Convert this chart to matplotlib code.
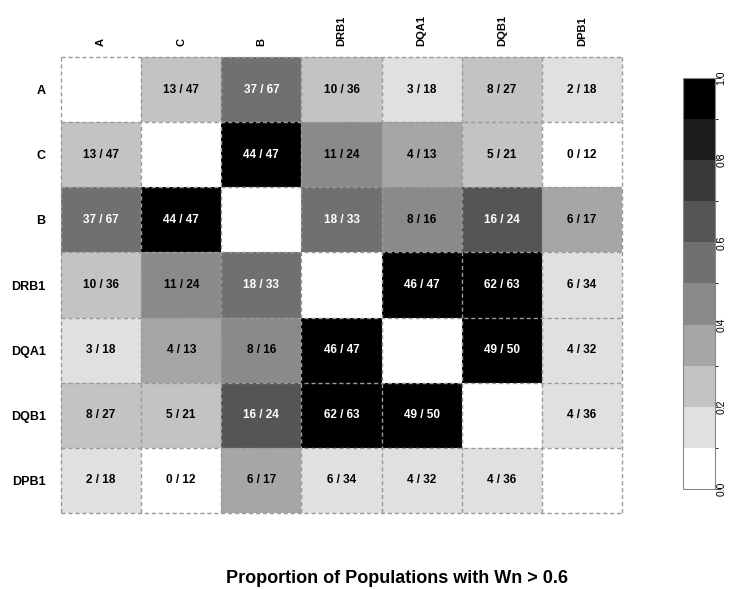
import numpy as np
import matplotlib
matplotlib.use("Agg")
import matplotlib.pyplot as plt
from matplotlib.colors import ListedColormap, BoundaryNorm

plt.rcParams['font.family'] = ['Liberation Sans', 'DejaVu Sans']

loci = ['A', 'C', 'B', 'DRB1', 'DQA1', 'DQB1', 'DPB1']

# populations with Wn > 0.6 (numerator) / populations tested (denominator)
hits = [
    [None, 13, 37, 10, 3, 8, 2],
    [13, None, 44, 11, 4, 5, 0],
    [37, 44, None, 18, 8, 16, 6],
    [10, 11, 18, None, 46, 62, 6],
    [3, 4, 8, 46, None, 49, 4],
    [8, 5, 16, 62, 49, None, 4],
    [2, 0, 6, 6, 4, 4, None],
]
totals = [
    [None, 47, 67, 36, 18, 27, 18],
    [47, None, 47, 24, 13, 21, 12],
    [67, 47, None, 33, 16, 24, 17],
    [36, 24, 33, None, 47, 63, 34],
    [18, 13, 16, 47, None, 50, 32],
    [27, 21, 24, 63, 50, None, 36],
    [18, 12, 17, 34, 32, 36, None],
]

greys = ['#FFFFFF', '#E0E0E0', '#C3C3C3', '#A6A6A6', '#8A8A8A',
         '#707070', '#555555', '#383838', '#1C1C1C', '#000000']

n = len(loci)
num = np.array([[np.nan if v is None else v for v in r] for r in hits], dtype=float)
den = np.array([[np.nan if v is None else v for v in r] for r in totals], dtype=float)
prop = num / den

# right-closed bins, like R's cut()
bounds = np.r_[0, np.linspace(0.1, 0.9, 9) + 1e-6, 1]
cmap = ListedColormap(greys)
cmap.set_bad('white')
norm = BoundaryNorm(bounds, cmap.N)

fig = plt.figure(figsize=(7.29, 5.89), dpi=100)
ax = fig.add_axes([0.0837, 0.129, 0.7695, 0.7742])

mesh = ax.pcolormesh(np.ma.masked_invalid(prop), cmap=cmap, norm=norm)
ax.set_xlim(0, n)
ax.set_ylim(n, 0)

# dashed cell borders
ax.hlines(np.arange(n + 1), 0, n, colors='#9a9a9a', linestyles=(0, (3, 2)),
          linewidth=1, clip_on=False, zorder=3)
ax.vlines(np.arange(n + 1), 0, n, colors='#9a9a9a', linestyles=(0, (3, 2)),
          linewidth=1, clip_on=False, zorder=3)

for i in range(n):
    for j in range(n):
        if np.isnan(prop[i, j]):
            continue
        col = 'white' if prop[i, j] > 0.5 else 'black'
        ax.text(j + 0.5, i + 0.5, f"{int(num[i, j])} / {int(den[i, j])}",
                ha='center', va='center', fontsize=8.5, fontweight='bold', color=col)

ax.xaxis.tick_top()
ax.set_xticks(np.arange(n) + 0.5)
ax.set_xticklabels(loci, rotation=90, fontsize=8, fontweight='bold')
ax.set_yticks(np.arange(n) + 0.5)
ax.set_yticklabels(loci, fontsize=9, fontweight='bold')
ax.tick_params(axis='x', length=0, pad=8)
ax.tick_params(axis='y', length=0, pad=11)
for s in ax.spines.values():
    s.set_visible(False)

cax = fig.add_axes([0.937, 0.1698, 0.0439, 0.6978])
cb = fig.colorbar(mesh, cax=cax, ticks=[0, 0.2, 0.4, 0.6, 0.8, 1.0])
cb.outline.set_edgecolor('#888888')
cb.outline.set_linewidth(0.8)
cax.set_yticklabels(['0.0', '0.2', '0.4', '0.6', '0.8', '1.0'], rotation=90,
                    va='center', fontsize=7.5)
cax.tick_params(axis='y', length=4, width=0.7, color='#444444', pad=-3)

fig.text(0.545, 0.017, 'Proportion of Populations with Wn > 0.6',
         ha='center', va='center', fontsize=13, fontweight='bold')

fig.savefig('out.png', dpi=100)
